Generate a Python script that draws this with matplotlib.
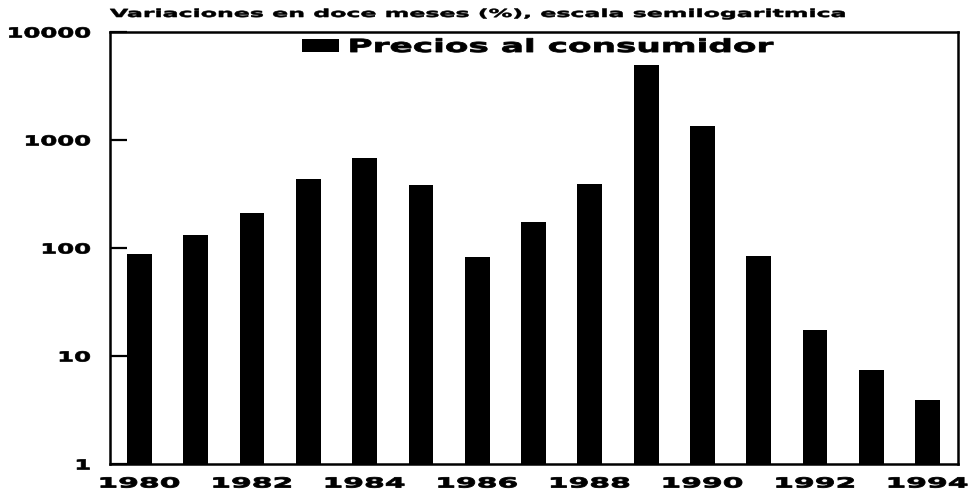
import matplotlib
matplotlib.use('Agg')
import matplotlib.pyplot as plt
from matplotlib.patheffects import AbstractPathEffect
from matplotlib.transforms import Affine2D

# variaciones en doce meses del IPC (%)
years = list(range(1980, 1995))
ipc = [87.6, 131.3, 209.7, 433.7, 688.0, 385.4, 81.9, 174.8, 387.7,
       4923.6, 1343.9, 84.0, 17.5, 7.4, 3.9]
x_ticks = [1980, 1982, 1984, 1986, 1988, 1990, 1992, 1994]
y_ticks = [1, 10, 100, 1000, 10000]
y_labels = ['1', '10', '100', '1000', '10000']
title = 'Variaciones en doce meses (%), escala semilogaritmica'
serie = 'Precios al consumidor'


class Widen(AbstractPathEffect):
    """Stretch text glyphs horizontally around one edge or the center,
    with an optional outline to make them heavier."""

    def __init__(self, sx, anchor='center', lw=0.0):
        super().__init__()
        self.sx = sx
        self.anchor = anchor
        self.lw = lw

    def draw_path(self, renderer, gc, tpath, affine, rgbFace=None):
        ext = tpath.get_extents()
        if self.anchor == 'left':
            cx = ext.x0
        elif self.anchor == 'right':
            cx = ext.x1
        else:
            cx = (ext.x0 + ext.x1) / 2
        stretch = Affine2D().translate(-cx, 0).scale(self.sx, 1).translate(cx, 0)
        gc0 = renderer.new_gc()
        gc0.copy_properties(gc)
        if self.lw and rgbFace is not None:
            gc0.set_linewidth(self.lw)
            gc0.set_foreground(rgbFace)
        renderer.draw_path(gc0, tpath, stretch + affine, rgbFace)
        gc0.restore()


plt.rcParams['font.family'] = ['DejaVu Sans']
plt.rcParams['font.weight'] = 'bold'

W, H = 968, 492
fig = plt.figure(figsize=(W / 100, H / 100), dpi=100)
ax = fig.add_axes([110 / W, 28 / H, 848 / W, 432 / H])

bars = ax.bar(years, ipc, width=0.44, color='black', log=True,
              label=serie)

ax.set_yscale('log')
ax.set_ylim(1, 10000)
ax.set_xlim(1979.476, 1994.54)
ax.set_yticks(y_ticks)
ax.set_yticklabels(y_labels)
ax.minorticks_off()
ax.set_xticks(x_ticks)
ax.set_xticklabels([str(y) for y in x_ticks])

ax.tick_params(axis='y', direction='in', length=12, width=1.6, pad=14,
               labelsize=10)
ax.tick_params(axis='x', length=0, pad=9, labelsize=10)
for sp in ax.spines.values():
    sp.set_linewidth(1.8)

for t in ax.get_yticklabels():
    t.set_path_effects([Widen(1.75, 'right', lw=0.5)])
for t in ax.get_xticklabels():
    t.set_path_effects([Widen(2.15, 'center', lw=0.6)])

leg = ax.legend(loc='upper left', bbox_to_anchor=(302 / W, 1 - 38 / H),
                bbox_transform=fig.transFigure, frameon=False,
                fontsize=13, handlelength=2.05, handleheight=0.7,
                handletextpad=0.55, borderpad=0, borderaxespad=0)
leg.get_texts()[0].set_path_effects([Widen(1.9, 'left', lw=0.6)])

fig.canvas.draw()
ttl = fig.text(110 / W, 1 - 14 / H, title, ha='left', va='center',
               fontsize=8)
nat = ttl.get_window_extent(fig.canvas.get_renderer()).width
ttl.set_path_effects([Widen(735 / nat, 'left', lw=0.4)])

fig.savefig('out.png', dpi=100)
